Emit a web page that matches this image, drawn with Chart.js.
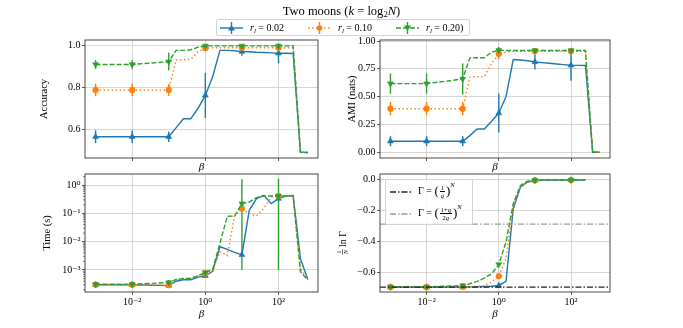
<!DOCTYPE html>
<html>
<head>
<meta charset="utf-8">
<script src="https://cdn.jsdelivr.net/npm/chart.js@4.4.1/dist/chart.umd.min.js"></script>
<style>
  body { margin: 0; background: #fff; }
  #fig { position: relative; width: 683px; height: 328px; overflow: hidden;
         font-family: 'Liberation Serif', 'DejaVu Serif', serif; color: #000; }
  #fig canvas { position: absolute; left: 0; top: 0; }
  #title { position: absolute; left: 0; top: 3px; width: 683px; text-align: center;
           font-size: 12.5px; line-height: 16px; }
  sub { font-size: 70%; vertical-align: -2px; line-height: 0; }
  sup { font-size: 6.5px; vertical-align: 7px; line-height: 0; font-style: italic; }
  .legend { position: absolute; background: rgba(255,255,255,0.8); border: 1px solid #d4d4d4;
            border-radius: 2px; box-sizing: border-box; font-size: 10px; z-index: 5; }
  .item { position: absolute; white-space: nowrap; line-height: 14px; }
  .frac { display: inline-flex; flex-direction: column; vertical-align: middle; font-size: 6.5px;
          line-height: 7px; text-align: center; margin: 0 1px; }
  .frac > span:first-child { border-bottom: 0.7px solid #000; padding: 0 1px; }
  .big { font-size: 13px; vertical-align: -1px; }
</style>
</head>
<body>
<div id="fig">
  <canvas id="acc" width="683" height="328"></canvas>
  <canvas id="ami" width="683" height="328"></canvas>
  <canvas id="time" width="683" height="328"></canvas>
  <canvas id="gam" width="683" height="328"></canvas>
  <div id="title">Two moons (<i>k</i> = log<sub>2</sub><i>N</i>)</div>
  <div class="legend" id="leg" style="left:216px;top:19px;width:254px;height:17px"></div>
  <div class="legend" id="gleg" style="left:385px;top:179px;width:88px;height:46px">
    <svg width="30" height="46" style="position:absolute;left:0;top:0">
      <line x1="4" y1="12" x2="25" y2="12" stroke="#222" stroke-width="1.4" stroke-dasharray="6 2 1.5 2"/>
      <line x1="4" y1="34" x2="25" y2="34" stroke="#999" stroke-width="1.4" stroke-dasharray="6 2 1.5 2"/>
    </svg>
    <div class="item" style="left:32px;top:4px">Γ = <span class="big">(</span><span class="frac"><span>1</span><span><i>q</i></span></span><span class="big">)</span><sup>N</sup></div>
    <div class="item" style="left:32px;top:26px">Γ = <span class="big">(</span><span class="frac"><span>1+<i>q</i></span><span>2<i>q</i></span></span><span class="big">)</span><sup>N</sup></div>
  </div>
</div>
<script>
// beta grid (x values) and the points that carry markers / error bars
const BETA = [0.001, 0.01, 0.1, 0.158, 0.251, 0.398, 0.631, 1, 1.585, 2.512, 3.981,
              6.31, 10, 15.85, 25.12, 39.81, 63.1, 100, 158.5, 251.2, 398.1, 631];
const MARKER_IDX = [0, 1, 2, 7, 12, 17];
const RL = ['0.02', '0.10', '0.20)'];

// accuracy
const ACC_B = [0.565, 0.565, 0.565, 0.607, 0.650, 0.650, 0.700, 0.761, 0.850, 0.975, 0.975,
               0.973, 0.969, 0.968, 0.966, 0.965, 0.963, 0.961, 0.961, 0.960, 0.492, 0.490];
const ACC_O = [0.787, 0.787, 0.787, 0.930, 0.930, 0.932, 0.968, 0.985, 0.987, 0.987, 0.987,
               0.987, 0.987, 0.987, 0.987, 0.987, 0.987, 0.987, 0.987, 0.987, 0.492, 0.490];
const ACC_G = [0.908, 0.908, 0.921, 0.975, 0.975, 0.978, 0.990, 0.996, 0.996, 0.996, 0.996,
               0.996, 0.996, 0.996, 0.996, 0.996, 0.996, 0.996, 0.996, 0.996, 0.492, 0.490];
const ACC_ERR_B = [0.03, 0.03, 0.025, 0.107, 0.02, 0.047];
const ACC_ERR_O = [0.03, 0.03, 0.029, 0.01, 0.008, 0.008];
const ACC_ERR_G = [0.021, 0.021, 0.042, 0.006, 0.006, 0.006];

// AMI
const AMI_B = [0.100, 0.100, 0.100, 0.150, 0.210, 0.210, 0.280, 0.353, 0.500, 0.833, 0.829,
               0.822, 0.812, 0.806, 0.800, 0.794, 0.788, 0.782, 0.781, 0.780, 0.000, 0.000];
const AMI_O = [0.392, 0.392, 0.392, 0.677, 0.680, 0.680, 0.800, 0.884, 0.900, 0.908, 0.908,
               0.908, 0.908, 0.908, 0.908, 0.908, 0.908, 0.908, 0.908, 0.908, 0.000, 0.000];
const AMI_G = [0.617, 0.617, 0.659, 0.848, 0.850, 0.850, 0.900, 0.917, 0.915, 0.915, 0.915,
               0.915, 0.915, 0.915, 0.915, 0.915, 0.915, 0.915, 0.915, 0.915, 0.000, 0.000];
const AMI_ERR_B = [0.045, 0.045, 0.045, 0.175, 0.067, 0.14];
const AMI_ERR_O = [0.06, 0.06, 0.06, 0.045, 0.02, 0.02];
const AMI_ERR_G = [0.09, 0.09, 0.14, 0.03, 0.02, 0.02];

// time (s)
const TIME_B = [3.0e-4, 3.0e-4, 2.8e-4, 4.0e-4, 4.5e-4, 4.5e-4, 5.6e-4, 6.2e-4, 9.0e-4, 6.6e-3, 5.3e-3,
                4.2e-3, 3.4e-3, 0.128, 0.33, 0.43, 0.22, 0.33, 0.41, 0.43, 2.5e-3, 4.6e-4];
const TIME_O = [3.0e-4, 3.0e-4, 2.9e-4, 4.5e-4, 5.0e-4, 5.0e-4, 6.0e-4, 7.5e-4, 1.0e-3, 4.4e-3, 3.2e-3,
                0.085, 0.147, 0.098, 0.081, 0.15, 0.38, 0.41, 0.41, 0.41, 1.1e-3, 4.6e-4];
const TIME_G = [3.1e-4, 3.1e-4, 3.6e-4, 4.6e-4, 5.0e-4, 5.0e-4, 6.3e-4, 8.1e-4, 1.05e-3, 8.9e-3, 0.079,
                0.08, 0.22, 0.25, 0.36, 0.41, 0.41, 0.41, 0.41, 0.41, 8.7e-4, 4.4e-4];
const TIME_ERR_B = [2e-5, 2e-5, 2e-5, 5e-5, 0, 0];
const TIME_ERR_O = [2e-5, 2e-5, 2e-5, 5e-5, 0, 0];
const TIME_ERR_G = [2e-5, 2e-5, 8e-5, 5e-5, [0.219, 1.37], [0.409, 1.25]];

// (1/N) ln Gamma
const LNG_B = [-0.693, -0.693, -0.692, -0.691, -0.690, -0.689, -0.687, -0.682, -0.656, -0.190,
               -0.050, -0.017, -0.008, -0.006, -0.005, -0.005, -0.005, -0.005, -0.005, -0.005];
const LNG_O = [-0.692, -0.692, -0.691, -0.690, -0.688, -0.683, -0.660, -0.622, -0.510, -0.170,
               -0.048, -0.015, -0.007, -0.006, -0.005, -0.005, -0.005, -0.005, -0.005, -0.005];
const LNG_G = [-0.692, -0.692, -0.682, -0.671, -0.656, -0.635, -0.607, -0.547, -0.403, -0.157,
               -0.039, -0.012, -0.006, -0.005, -0.005, -0.005, -0.005, -0.005, -0.005, -0.005];
const REF_LEVELS = [-0.693, -0.288];
const REF_COLORS = ['#222', '#999'];

// ticks
const X_TICKS = [0.01, 1, 100];
const X_TICK_LABELS = ['10⁻²', '10⁰', '10²'];
const X_MIN = 5.13e-4, X_MAX = 1202;

const FONT = "'Liberation Serif', 'DejaVu Serif', serif";
const STYLE = [
  { color: '#1f77b4', dash: [], marker: 'triangle', rot: 0, size: 3.4, order: 3 },
  { color: '#ff7f0e', dash: [1.5, 2.5], marker: 'circle', rot: 0, size: 2.9, order: 2 },
  { color: '#2ca02c', dash: [5, 2], marker: 'triangle', rot: 180, size: 3.4, order: 1 }
];
const GRID = { color: '#cccccc', lineWidth: 0.8, tickLength: 3, tickColor: '#333', drawTicks: true };

const errorBars = {
  id: 'errorBars',
  beforeDatasetsDraw(chart) {
    const { ctx, chartArea: a, scales: { x, y } } = chart;
    ctx.save();
    ctx.beginPath();
    ctx.rect(a.left, a.top, a.right - a.left, a.bottom - a.top);
    ctx.clip();
    chart.data.datasets.forEach(ds => {
      if (!ds.errs) return;
      ds.errs.forEach((e, k) => {
        const p = ds.data[MARKER_IDX[k]];
        const [lo, hi] = Array.isArray(e) ? e : [e, e];
        if (!p || (!lo && !hi)) return;
        const px = x.getPixelForValue(p.x);
        ctx.strokeStyle = ds.borderColor;
        ctx.lineWidth = 1.4;
        ctx.beginPath();
        ctx.moveTo(px, y.getPixelForValue(p.y - lo));
        ctx.lineTo(px, y.getPixelForValue(p.y + hi));
        ctx.stroke();
      });
    });
    ctx.restore();
  }
};

const frame = {
  id: 'frame',
  afterDraw(chart) {
    const { ctx, chartArea: a, scales: { y } } = chart;
    ctx.save();
    ctx.strokeStyle = '#333';
    ctx.lineWidth = 0.9;
    ctx.strokeRect(a.left, a.top, a.right - a.left, a.bottom - a.top);
    if (y.type === 'logarithmic') {
      // minor ticks on the log axis
      ctx.lineWidth = 0.6;
      for (let d = -4; d <= 0; d++) {
        for (let m = 2; m <= 9; m++) {
          const v = m * Math.pow(10, d);
          if (v < y.min || v > y.max) continue;
          const py = y.getPixelForValue(v);
          ctx.beginPath();
          ctx.moveTo(a.left, py);
          ctx.lineTo(a.left - 2, py);
          ctx.stroke();
        }
      }
    }
    ctx.restore();
  }
};

function makeChart(id, p) {
  const sets = p.series.map((vals, s) => {
    const st = STYLE[s];
    return {
      data: vals.map((v, i) => ({ x: BETA[i], y: v })),
      errs: p.errs[s],
      borderColor: st.color,
      backgroundColor: st.color,
      borderWidth: 1.4,
      borderDash: st.dash,
      pointStyle: st.marker,
      pointRotation: st.rot,
      pointRadius: vals.map((v, i) => MARKER_IDX.includes(i) ? st.size : 0),
      pointBorderWidth: 0.6,
      order: st.order
    };
  });
  (p.refs || []).forEach((lvl, i) => {
    sets.push({
      data: [{ x: X_MIN, y: lvl }, { x: X_MAX, y: lvl }],
      borderColor: REF_COLORS[i],
      borderWidth: 1.4,
      borderDash: [6, 2, 1.5, 2],
      pointRadius: 0,
      order: 0
    });
  });

  return new Chart(document.getElementById(id), {
    type: 'line',
    data: { datasets: sets },
    options: {
      responsive: false,
      animation: false,
      devicePixelRatio: 1,
      events: [],
      layout: { padding: { left: p.padLeft, top: p.top, right: 683 - p.right, bottom: 328 - p.bottom - p.xH } },
      plugins: { legend: { display: false }, tooltip: { enabled: false } },
      scales: {
        x: {
          type: 'logarithmic', min: X_MIN, max: X_MAX, bounds: 'data',
          afterBuildTicks: s => { s.ticks = X_TICKS.map(v => ({ value: v })); },
          afterFit: s => { s.height = p.xH; },
          grid: GRID,
          border: { display: false },
          ticks: {
            display: p.xLabels, color: '#000', font: { family: FONT, size: 10 },
            padding: 1, maxRotation: 0, autoSkip: false,
            callback: v => X_TICK_LABELS[X_TICKS.indexOf(v)]
          },
          title: {
            display: true, text: 'β', color: '#000',
            font: { family: FONT, size: 11, style: 'italic' },
            padding: { top: 0, bottom: p.xTitlePad }
          }
        },
        y: {
          type: p.yType, min: p.yMin, max: p.yMax, bounds: 'data',
          afterBuildTicks: s => { s.ticks = p.yTicks.map(v => ({ value: v })); },
          afterFit: s => { s.width = p.yW; },
          grid: GRID,
          border: { display: false },
          ticks: {
            color: '#000', font: { family: FONT, size: 10 }, padding: 1.5, autoSkip: false,
            callback: v => p.yLabels[p.yTicks.indexOf(v)]
          },
          title: {
            display: !!p.yTitle, text: p.yTitle || '', color: '#000',
            font: { family: FONT, size: 10.5 },
            padding: { top: p.yTitlePad || 0, bottom: 0 }
          }
        }
      }
    },
    plugins: [errorBars, frame].concat(p.extra || [])
  });
}

makeChart('acc', {
  series: [ACC_B, ACC_O, ACC_G], errs: [ACC_ERR_B, ACC_ERR_O, ACC_ERR_G],
  padLeft: 0, yW: 85, top: 40, bottom: 158, right: 318, xH: 20, xTitlePad: 4, xLabels: false,
  yType: 'linear', yMin: 0.464, yMax: 1.024,
  yTicks: [0.6, 0.8, 1.0], yLabels: ['0.6', '0.8', '1.0'],
  yTitle: 'Accuracy', yTitlePad: 38
});

makeChart('ami', {
  series: [AMI_B, AMI_O, AMI_G], errs: [AMI_ERR_B, AMI_ERR_O, AMI_ERR_G],
  padLeft: 320, yW: 60, top: 40, bottom: 158, right: 610, xH: 20, xTitlePad: 4, xLabels: false,
  yType: 'linear', yMin: -0.051, yMax: 1.009,
  yTicks: [0, 0.25, 0.5, 0.75, 1.0], yLabels: ['0.00', '0.25', '0.50', '0.75', '1.00'],
  yTitle: 'AMI (nats)', yTitlePad: 26
});

makeChart('time', {
  series: [TIME_B, TIME_O, TIME_G], errs: [TIME_ERR_B, TIME_ERR_O, TIME_ERR_G],
  padLeft: 0, yW: 85, top: 174, bottom: 292, right: 318, xH: 30, xTitlePad: 1, xLabels: true,
  yType: 'logarithmic', yMin: 1.66e-4, yMax: 2.455,
  yTicks: [0.001, 0.01, 0.1, 1], yLabels: ['10⁻³', '10⁻²', '10⁻¹', '10⁰'],
  yTitle: 'Time (s)', yTitlePad: 41
});

const fracLabel = {
  id: 'fracLabel',
  afterDraw(chart) {
    const ctx = chart.ctx;
    ctx.save();
    ctx.translate(342.5, 246);
    ctx.rotate(-Math.PI / 2);
    ctx.fillStyle = '#000';
    ctx.strokeStyle = '#000';
    ctx.textAlign = 'center';
    ctx.textBaseline = 'middle';
    ctx.font = `6px ${FONT}`;
    ctx.fillText('1', -6, -3.5);
    ctx.font = `italic 6px ${FONT}`;
    ctx.fillText('N', -6, 3.8);
    ctx.lineWidth = 0.6;
    ctx.beginPath();
    ctx.moveTo(-8.5, 0);
    ctx.lineTo(-3.5, 0);
    ctx.stroke();
    ctx.textAlign = 'left';
    ctx.font = `10px ${FONT}`;
    ctx.fillText('ln Γ', -1, 0.5);
    ctx.restore();
  }
};

makeChart('gam', {
  series: [LNG_B, LNG_O, LNG_G], errs: [null, null, null], refs: REF_LEVELS,
  padLeft: 320, yW: 60, top: 174, bottom: 292, right: 610, xH: 30, xTitlePad: 1, xLabels: true,
  yType: 'linear', yMin: -0.724, yMax: 0.034,
  yTicks: [-0.6, -0.4, -0.2, 0], yLabels: ['−0.6', '−0.4', '−0.2', '0.0'],
  extra: [fracLabel]
});

// top legend
function icon(st) {
  const dash = st.dash.length ? `stroke-dasharray="${st.dash.join(' ')}"` : '';
  let mk;
  if (st.marker === 'circle') mk = `<circle cx="11.5" cy="7" r="2.8" fill="${st.color}"/>`;
  else if (st.rot) mk = `<polygon points="8,4.5 15,4.5 11.5,10" fill="${st.color}"/>`;
  else mk = `<polygon points="11.5,4 15,9.5 8,9.5" fill="${st.color}"/>`;
  return `<svg width="23" height="14" style="position:absolute;left:0;top:0">` +
    `<line x1="0" y1="7" x2="23" y2="7" stroke="${st.color}" stroke-width="1.4" ${dash}/>` +
    `<line x1="11.5" y1="1" x2="11.5" y2="13" stroke="${st.color}" stroke-width="1.4"/>${mk}</svg>`;
}
const leg = document.getElementById('leg');
const ICON_LEFT = [3, 91, 179];
RL.forEach((r, s) => {
  const box = document.createElement('div');
  box.className = 'item';
  box.style.left = ICON_LEFT[s] + 'px';
  box.style.top = '1px';
  box.style.width = '80px';
  box.style.height = '14px';
  box.innerHTML = icon(STYLE[s]) +
    `<span style="position:absolute;left:30px;top:0"><i>r</i><sub><i>l</i></sub> = ${r}</span>`;
  leg.appendChild(box);
});
</script>
</body>
</html>
